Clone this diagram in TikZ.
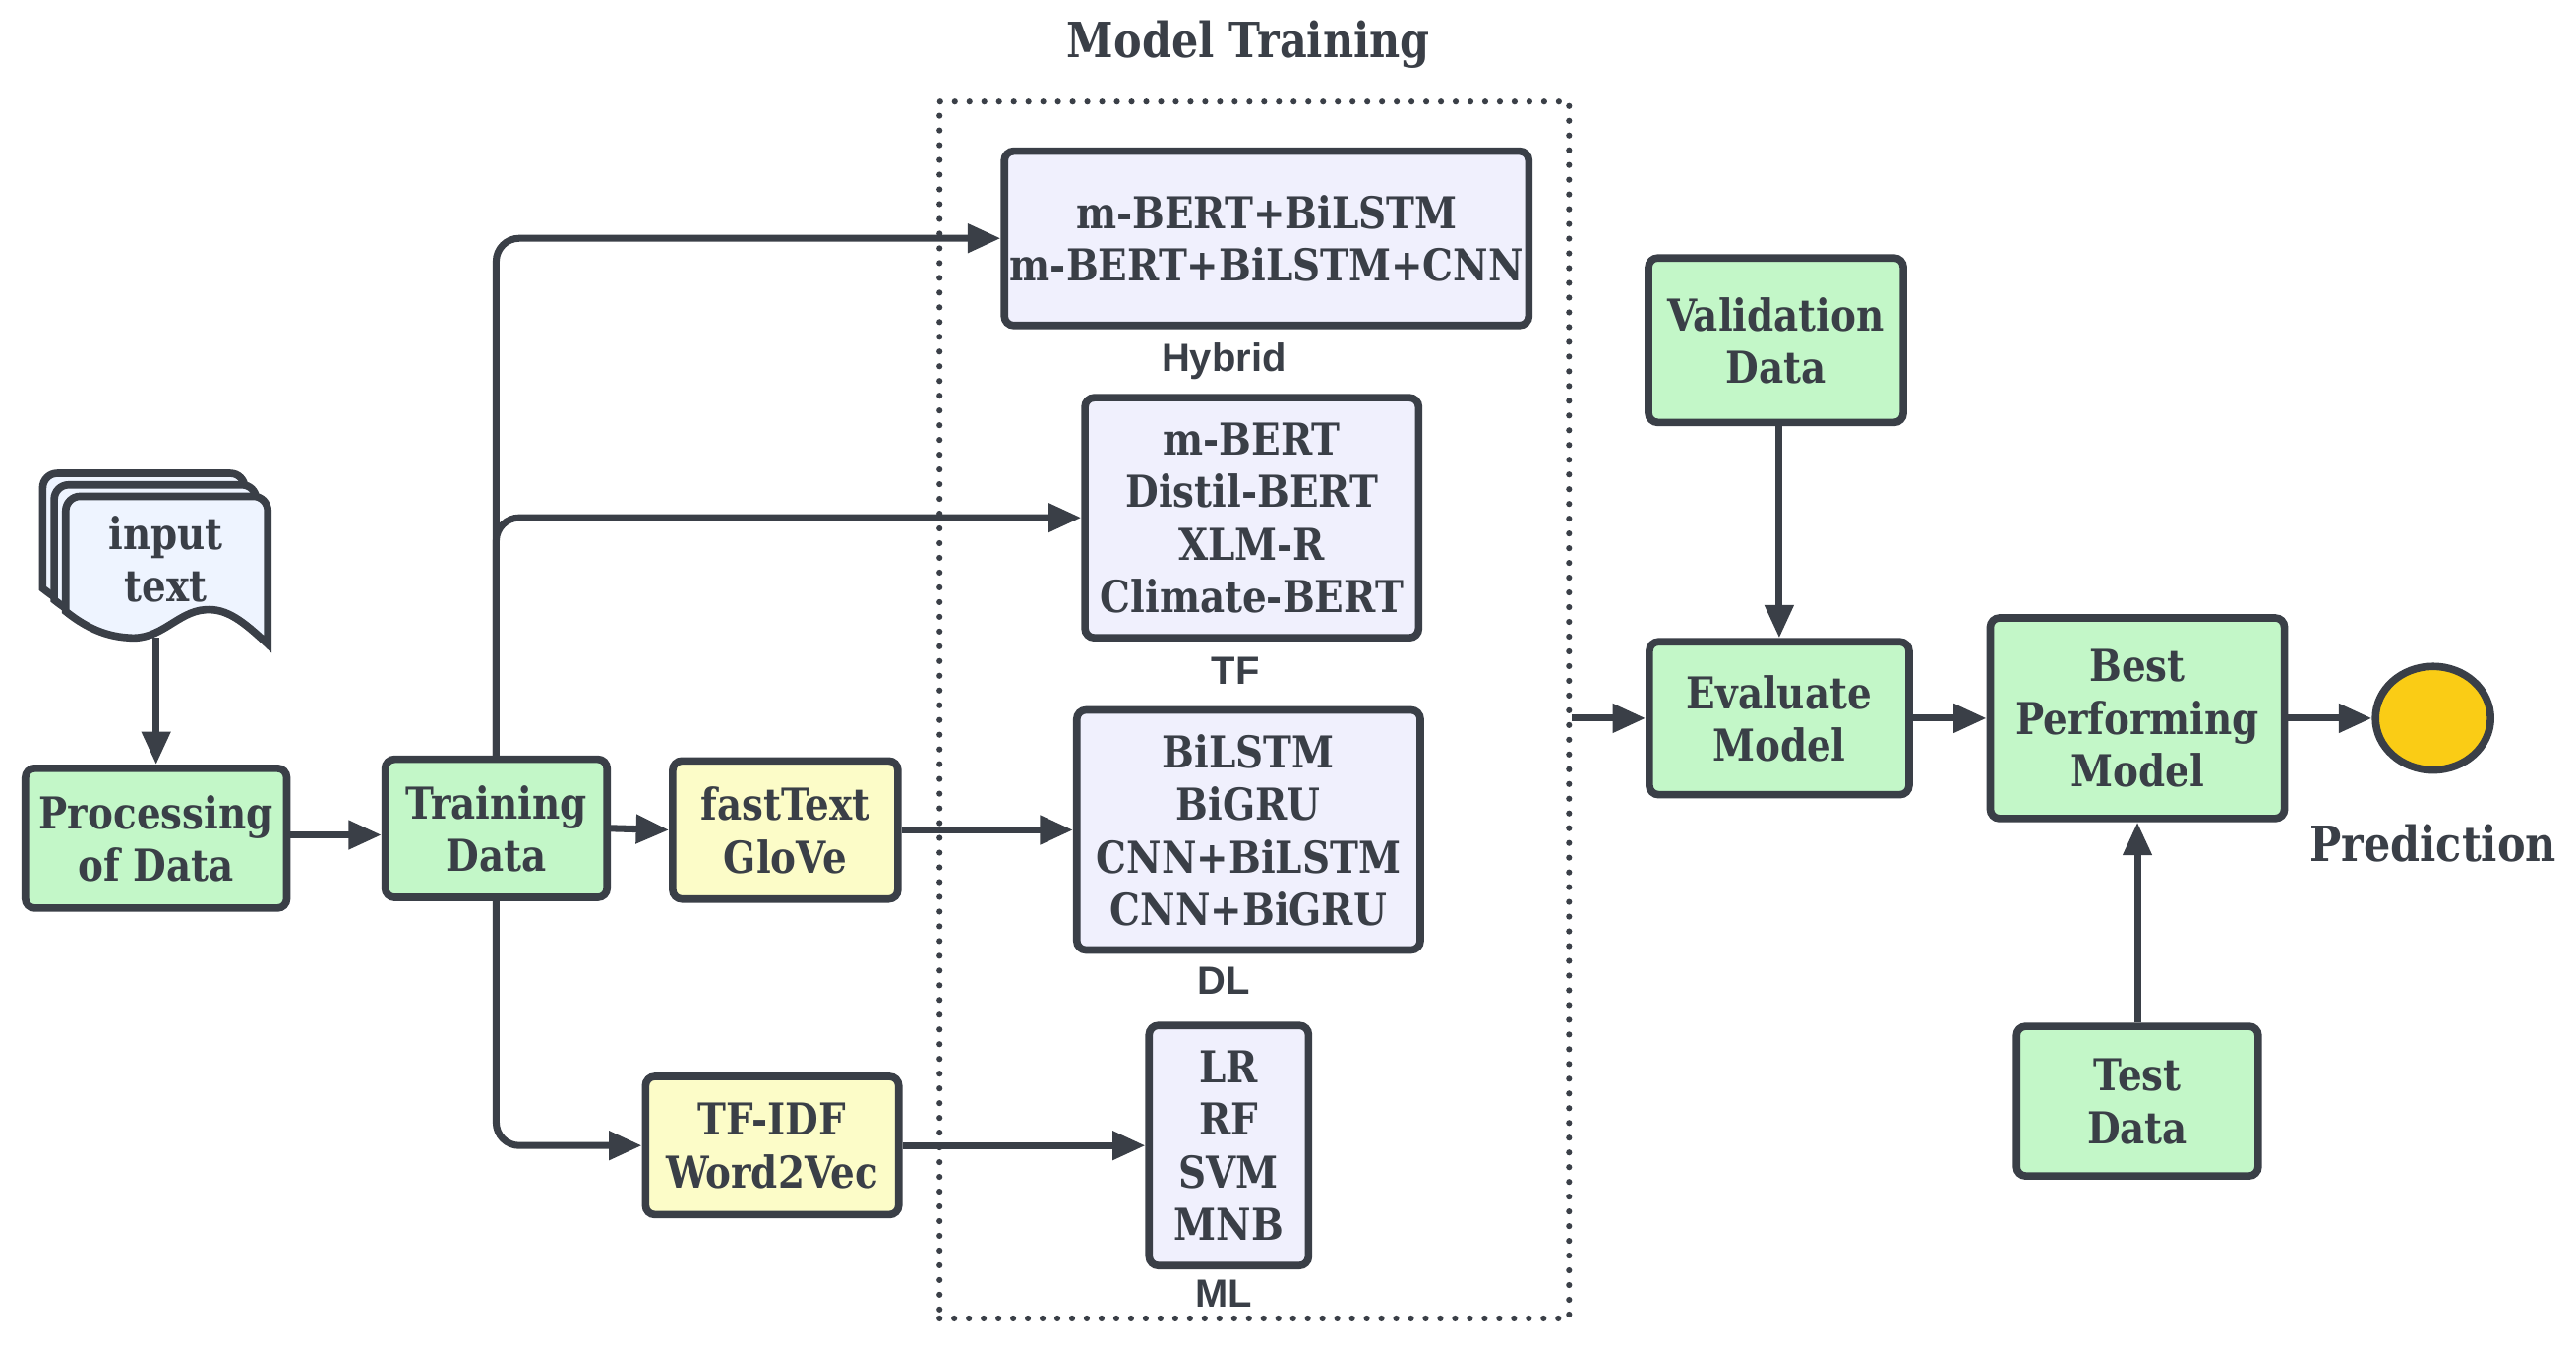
\documentclass[tikz,border=0pt]{standalone}
\usepackage{fontspec}
\setmainfont{DejaVu Serif}[FakeStretch=0.87]
\newfontfamily\tagfont{Liberation Sans}
\usetikzlibrary{arrows.meta,shapes.geometric}

\definecolor{ink}{RGB}{58,63,71}
\definecolor{mint}{RGB}{195,247,200}
\definecolor{lavender}{RGB}{240,240,253}
\definecolor{cream}{RGB}{252,252,200}
\definecolor{paper}{RGB}{238,244,255}
\definecolor{amber}{RGB}{250,204,21}

\tikzset{
  box/.style={draw=ink, line width=1.3pt, rounded corners=1.6pt, inner sep=0pt,
    align=center, text=ink, font=\bfseries\fontsize{7.6}{9.1}\selectfont,
    text depth=-2.2pt},
  databox/.style={box, fill=mint},
  modelbox/.style={box, fill=lavender},
  embbox/.style={box, fill=cream},
  tag/.style={text=ink, font=\tagfont\bfseries\fontsize{6.8}{8}\selectfont},
  heading/.style={text=ink, font=\bfseries\fontsize{8.4}{10}\selectfont},
  frame/.style={draw=ink, line width=1.05pt, dash pattern=on 0pt off 2.55pt,
    line cap=round, inner sep=0pt},
  flow/.style={draw=ink, line width=1.2pt, -{Triangle[length=5.7pt,width=4.8pt]}},
}

\begin{document}
\begin{tikzpicture}[x=0.01cm, y=-0.01cm]
\useasboundingbox (0,0) rectangle (1568,820);

% stacked input documents
\foreach \d in {14,7,0}
  \draw[draw=ink, line width=1.3pt, fill=paper, shift={(-\d,-\d)}]
    (40,372) [rounded corners=2.5pt] -- (40,302) -- (163,302) [sharp corners] -- (163,392)
    .. controls (148,378) and (138,370) .. (125,371)
    .. controls (108,372) and (98,390) .. (78,388)
    .. controls (62,387) and (50,380) .. (40,372) -- cycle;
\node[box, draw=none, fill=none, text depth=0pt] (input) at (101,340) {input\\text};
\coordinate (docbottom) at (95,388);

% data preparation
\node[databox, minimum width=1.59cm, minimum height=0.85cm] (proc) at (95,510) {Processing\\of Data};
\node[databox, minimum width=1.35cm, minimum height=0.84cm] (train) at (302,504) {Training\\Data};
\node[embbox, minimum width=1.37cm, minimum height=0.84cm] (embA) at (478,505) {fastText\\GloVe};
\node[embbox, minimum width=1.54cm, minimum height=0.84cm] (embB) at (470,697) {TF-IDF\\Word2Vec};

% model training
\node[frame, minimum width=3.83cm, minimum height=7.40cm] (training) at (763.5,432) {};
\node[heading] (trainhead) at (760,27) {Model Training};
\node[modelbox, text depth=0pt, minimum width=3.19cm, minimum height=1.06cm] (hyb) at (771,145) {m-BERT+BiLSTM\\m-BERT+BiLSTM+CNN};
\node[modelbox, minimum width=2.03cm, minimum height=1.46cm] (tf) at (762,315) {m-BERT\\Distil-BERT\\XLM-R\\Climate-BERT};
\node[modelbox, minimum width=2.09cm, minimum height=1.46cm] (dl) at (760,505) {BiLSTM\\BiGRU\\CNN+BiLSTM\\CNN+BiGRU};
\node[modelbox, minimum width=0.97cm, minimum height=1.46cm] (ml) at (748,697) {LR\\RF\\SVM\\MNB};
\node[tag] (hybtag) at (745,220) {Hybrid};
\node[tag] (tftag) at (752,408) {TF};
\node[tag] (dltag) at (745,597) {DL};
\node[tag] (mltag) at (745,787) {ML};

% evaluation
\node[databox, minimum width=1.55cm, minimum height=1.00cm] (val) at (1081,207) {Validation\\Data};
\node[databox, minimum width=1.58cm, minimum height=0.93cm] (eval) at (1083,437) {Evaluate\\Model};
\node[databox, minimum width=1.79cm, minimum height=1.22cm] (best) at (1301,437) {Best\\Performing\\Model};
\node[databox, minimum width=1.47cm, minimum height=0.91cm] (test) at (1301,670) {Test\\Data};
\node[ellipse, draw=ink, line width=1.3pt, fill=amber, minimum width=0.70cm, minimum height=0.63cm] (pred) at (1481,437) {};
\node[heading] (predtag) at (1481,513) {Prediction};

\draw[flow] (docbottom) -- (proc.north);
\draw[flow] (proc.east |- 0,508) -- (train.west |- 0,508);
\draw[flow, rounded corners=4pt] (train.north) |- (hyb.west);
\draw[flow, rounded corners=4pt] (train.north) |- (tf.west);
\draw[flow] (train.east) -- (embA.west);
\draw[flow, rounded corners=4pt] (train.south) |- (embB.west);
\draw[flow] (embA.east) -- (embA.east -| dl.west);
\draw[flow] (embB.east) -- (embB.east -| ml.west);
\draw[flow] (training.east |- eval.west) -- (eval.west);
\draw[flow] (val.south -| eval.north) -- (eval.north);
\draw[flow] (eval) -- (best);
\draw[flow] (best) -- (pred);
\draw[flow] (test) -- (best);
\end{tikzpicture}
\end{document}
